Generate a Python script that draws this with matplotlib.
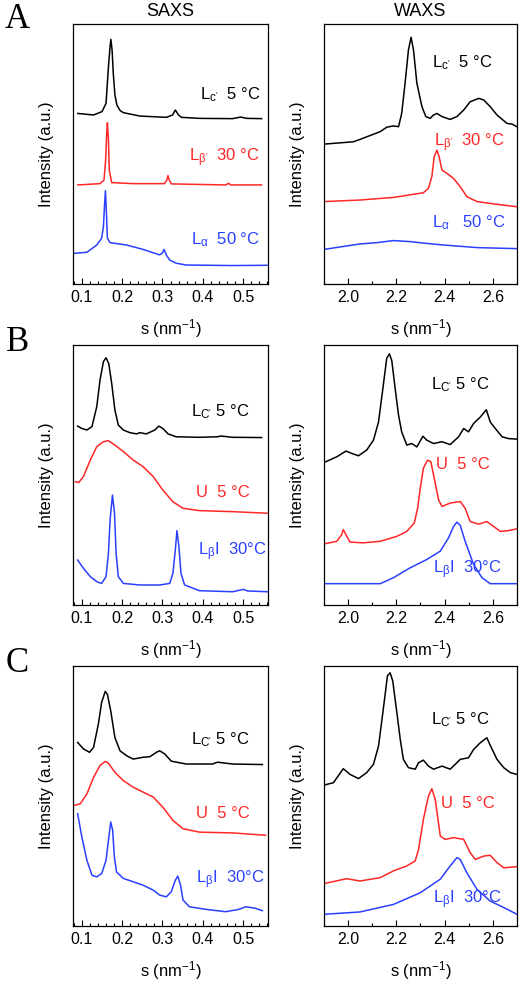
import matplotlib
matplotlib.use("Agg")
import matplotlib.pyplot as plt
from matplotlib.ticker import MultipleLocator

plt.rcParams["font.family"] = ["Liberation Sans", "DejaVu Sans"]
plt.rcParams["mathtext.fontset"] = "custom"
plt.rcParams["mathtext.rm"] = "Liberation Sans"
plt.rcParams["mathtext.it"] = "Liberation Sans"
plt.rcParams["mathtext.default"] = "regular"

# ---- panel A, SAXS ----
a_saxs_k_s = [0.090, 0.129, 0.150, 0.160, 0.166, 0.170, 0.172, 0.175, 0.178, 0.182, 0.187, 0.195,
              0.203, 0.244, 0.310, 0.325, 0.332, 0.340, 0.347, 0.392, 0.474, 0.494, 0.510, 0.546]
a_saxs_k_i = [0.656, 0.650, 0.663, 0.695, 0.836, 0.913, 0.941, 0.900, 0.810, 0.727, 0.688, 0.667,
              0.659, 0.646, 0.641, 0.650, 0.669, 0.650, 0.641, 0.637, 0.636, 0.642, 0.637, 0.636]
a_saxs_r_s = [0.090, 0.145, 0.155, 0.159, 0.1617, 0.1634, 0.166, 0.168, 0.174, 0.227, 0.305, 0.311,
              0.3136, 0.317, 0.322, 0.457, 0.464, 0.470, 0.546]
a_saxs_r_i = [0.381, 0.386, 0.400, 0.477, 0.579, 0.620, 0.554, 0.438, 0.390, 0.386, 0.386, 0.400,
              0.417, 0.400, 0.385, 0.381, 0.387, 0.381, 0.381]
a_saxs_b_s = [0.081, 0.1125, 0.137, 0.149, 0.1535, 0.156, 0.1585, 0.161, 0.1634, 0.170, 0.211, 0.252,
              0.293, 0.300, 0.304, 0.3095, 0.318, 0.334, 0.359, 0.474, 0.560]
a_saxs_b_i = [0.118, 0.122, 0.150, 0.176, 0.220, 0.297, 0.359, 0.272, 0.176, 0.159, 0.150, 0.133,
              0.112, 0.120, 0.133, 0.112, 0.092, 0.080, 0.073, 0.071, 0.072]

# ---- panel A, WAXS ----
a_waxs_k_s = [1.900, 2.022, 2.049, 2.133, 2.160, 2.188, 2.209, 2.222, 2.236, 2.250, 2.261, 2.271,
              2.285, 2.306, 2.322, 2.340, 2.354, 2.368, 2.389, 2.423, 2.451, 2.479, 2.506, 2.541,
              2.562, 2.589, 2.617, 2.658, 2.679, 2.700]
a_waxs_k_i = [0.538, 0.547, 0.556, 0.586, 0.603, 0.608, 0.605, 0.656, 0.772, 0.900, 0.949, 0.900,
              0.772, 0.682, 0.644, 0.637, 0.650, 0.656, 0.644, 0.633, 0.644, 0.669, 0.701, 0.714,
              0.708, 0.682, 0.650, 0.618, 0.615, 0.605]
a_waxs_r_s = [1.900, 2.049, 2.188, 2.271, 2.312, 2.333, 2.347, 2.357, 2.368, 2.377, 2.389, 2.409,
              2.437, 2.465, 2.492, 2.534, 2.603, 2.700]
a_waxs_r_i = [0.317, 0.323, 0.333, 0.345, 0.351, 0.368, 0.413, 0.490, 0.515, 0.490, 0.438, 0.426,
              0.406, 0.374, 0.336, 0.317, 0.308, 0.297]
a_waxs_b_s = [1.900, 2.049, 2.119, 2.188, 2.257, 2.326, 2.396, 2.534, 2.700]
a_waxs_b_i = [0.133, 0.154, 0.159, 0.167, 0.163, 0.156, 0.150, 0.140, 0.136]

# ---- panel B, SAXS ----
b_saxs_k_s = [0.0895, 0.100, 0.1125, 0.125, 0.137, 0.145, 0.1535, 0.160, 0.1667, 0.174, 0.182, 0.1905,
              0.203, 0.219, 0.236, 0.244, 0.260, 0.281, 0.291, 0.301, 0.314, 0.334, 0.392, 0.437,
              0.445, 0.474, 0.546]
b_saxs_k_i = [0.688, 0.679, 0.673, 0.686, 0.763, 0.865, 0.936, 0.951, 0.929, 0.853, 0.750, 0.692,
              0.673, 0.663, 0.658, 0.663, 0.658, 0.673, 0.688, 0.679, 0.658, 0.647, 0.645, 0.647,
              0.650, 0.645, 0.644]
b_saxs_r_s = [0.084, 0.092, 0.104, 0.121, 0.137, 0.1535, 0.166, 0.182, 0.203, 0.227, 0.252, 0.277,
              0.301, 0.326, 0.351, 0.392, 0.474, 0.560]
b_saxs_r_i = [0.474, 0.471, 0.494, 0.558, 0.609, 0.628, 0.632, 0.615, 0.590, 0.558, 0.532, 0.494,
              0.442, 0.397, 0.372, 0.363, 0.359, 0.353]
b_saxs_b_s = [0.0895, 0.104, 0.121, 0.137, 0.149, 0.160, 0.166, 0.170, 0.176, 0.181, 0.185, 0.1905,
              0.203, 0.244, 0.293, 0.318, 0.326, 0.332, 0.336, 0.341, 0.346, 0.355, 0.392, 0.474,
              0.501, 0.511, 0.560]
b_saxs_b_i = [0.173, 0.141, 0.109, 0.090, 0.083, 0.109, 0.199, 0.327, 0.423, 0.353, 0.199, 0.109,
              0.083, 0.077, 0.077, 0.083, 0.122, 0.212, 0.286, 0.224, 0.122, 0.077, 0.055, 0.051,
              0.060, 0.054, 0.051]

# ---- panel B, WAXS ----
b_waxs_k_s = [1.900, 1.953, 1.991, 2.015, 2.043, 2.077, 2.105, 2.126, 2.144, 2.160, 2.171, 2.181,
              2.195, 2.209, 2.222, 2.243, 2.264, 2.285, 2.310, 2.326, 2.354, 2.389, 2.423, 2.458,
              2.479, 2.499, 2.520, 2.548, 2.573, 2.589, 2.610, 2.638, 2.665, 2.700]
b_waxs_k_i = [0.548, 0.570, 0.592, 0.583, 0.574, 0.596, 0.634, 0.704, 0.832, 0.949, 0.966, 0.940,
              0.832, 0.730, 0.666, 0.615, 0.621, 0.608, 0.649, 0.634, 0.621, 0.628, 0.617, 0.647,
              0.679, 0.666, 0.698, 0.723, 0.751, 0.704, 0.679, 0.647, 0.640, 0.638]
b_waxs_r_s = [1.900, 1.953, 1.973, 1.980, 1.991, 2.008, 2.063, 2.133, 2.202, 2.243, 2.274, 2.288,
              2.299, 2.312, 2.329, 2.343, 2.357, 2.375, 2.389, 2.423, 2.465, 2.485, 2.506, 2.541,
              2.575, 2.603, 2.631, 2.665, 2.700]
b_waxs_r_i = [0.235, 0.245, 0.270, 0.290, 0.270, 0.242, 0.239, 0.245, 0.264, 0.283, 0.315, 0.372,
              0.449, 0.526, 0.557, 0.551, 0.487, 0.404, 0.379, 0.392, 0.398, 0.372, 0.321, 0.311,
              0.321, 0.302, 0.283, 0.286, 0.293]
b_waxs_b_s = [1.900, 2.133, 2.188, 2.257, 2.326, 2.382, 2.416, 2.437, 2.451, 2.465, 2.485, 2.520,
              2.555, 2.589, 2.645, 2.700]
b_waxs_b_i = [0.082, 0.082, 0.105, 0.143, 0.175, 0.207, 0.258, 0.302, 0.319, 0.306, 0.245, 0.156,
              0.105, 0.082, 0.082, 0.082]

# ---- panel C, SAXS ----
c_saxs_k_s = [0.0895, 0.104, 0.119, 0.129, 0.141, 0.149, 0.158, 0.1634, 0.1716, 0.182, 0.1946, 0.211,
              0.2274, 0.252, 0.2685, 0.285, 0.293, 0.3055, 0.322, 0.359, 0.424, 0.437, 0.474, 0.548]
c_saxs_k_i = [0.706, 0.681, 0.668, 0.687, 0.777, 0.860, 0.902, 0.891, 0.828, 0.725, 0.674, 0.655,
              0.642, 0.649, 0.651, 0.668, 0.674, 0.662, 0.634, 0.623, 0.623, 0.630, 0.623, 0.621]
c_saxs_r_s = [0.081, 0.096, 0.1125, 0.129, 0.145, 0.158, 0.166, 0.182, 0.203, 0.2274, 0.252, 0.277,
              0.301, 0.326, 0.351, 0.392, 0.474, 0.556]
c_saxs_r_i = [0.464, 0.470, 0.508, 0.572, 0.617, 0.633, 0.626, 0.591, 0.559, 0.534, 0.515, 0.496,
              0.457, 0.406, 0.374, 0.361, 0.358, 0.349]
c_saxs_b_s = [0.0895, 0.100, 0.1125, 0.125, 0.137, 0.1494, 0.160, 0.166, 0.1716, 0.1765, 0.1806, 0.186,
              0.203, 0.2274, 0.252, 0.277, 0.293, 0.3095, 0.322, 0.332, 0.338, 0.345, 0.351, 0.367,
              0.408, 0.457, 0.490, 0.507, 0.531, 0.548]
c_saxs_b_i = [0.432, 0.342, 0.253, 0.195, 0.189, 0.202, 0.253, 0.330, 0.400, 0.368, 0.266, 0.208,
              0.183, 0.170, 0.157, 0.138, 0.119, 0.112, 0.132, 0.176, 0.192, 0.157, 0.100, 0.074,
              0.064, 0.055, 0.064, 0.074, 0.068, 0.059]

# ---- panel C, WAXS ----
c_waxs_k_s = [1.900, 1.939, 1.980, 2.008, 2.043, 2.077, 2.105, 2.126, 2.144, 2.163, 2.174, 2.185,
              2.202, 2.216, 2.229, 2.250, 2.278, 2.292, 2.312, 2.333, 2.354, 2.389, 2.423, 2.465,
              2.499, 2.520, 2.548, 2.575, 2.589, 2.617, 2.645, 2.672, 2.700]
c_waxs_k_i = [0.542, 0.551, 0.605, 0.583, 0.567, 0.590, 0.622, 0.692, 0.821, 0.962, 0.974, 0.942,
              0.821, 0.718, 0.641, 0.609, 0.603, 0.628, 0.638, 0.615, 0.603, 0.615, 0.603, 0.641,
              0.647, 0.679, 0.705, 0.724, 0.695, 0.641, 0.609, 0.590, 0.583]
c_waxs_r_s = [1.900, 1.994, 2.049, 2.133, 2.188, 2.243, 2.278, 2.292, 2.312, 2.333, 2.347, 2.361,
              2.382, 2.402, 2.437, 2.479, 2.506, 2.527, 2.562, 2.589, 2.617, 2.645, 2.700]
c_waxs_r_i = [0.163, 0.182, 0.173, 0.186, 0.212, 0.231, 0.250, 0.295, 0.410, 0.500, 0.528, 0.487,
              0.346, 0.333, 0.340, 0.333, 0.282, 0.256, 0.269, 0.272, 0.244, 0.224, 0.228]
c_waxs_b_s = [1.900, 2.049, 2.188, 2.299, 2.382, 2.423, 2.451, 2.465, 2.492, 2.534, 2.589, 2.645, 2.700]
c_waxs_b_i = [0.045, 0.054, 0.083, 0.128, 0.180, 0.231, 0.263, 0.256, 0.205, 0.141, 0.096, 0.071, 0.045]

# curve labels
a_saxs_labels = [r"L$_{c'}$  5 °C", r"L$_{β'}$  30 °C", r"L$_{α}$  50 °C"]
a_waxs_labels = [r"L$_{c'}$  5 °C", r"L$_{β'}$  30 °C", r"L$_{α}$   50 °C"]
bc_labels = [r"L$_{C'}$ 5 °C", r"U  5 °C", r"L$_{β}$I  30°C"]

BLACK, RED, BLUE = "#000000", "#ff2626", "#2a40ff"
colors = [BLACK, RED, BLUE]

fig = plt.figure(figsize=(5.21, 9.82), dpi=100)

cols = [(73 / 521, 195 / 521), (324 / 521, 193 / 521)]
rows = [(982 - 284) / 982, (982 - 605) / 982, (982 - 926) / 982]
h = 260 / 982


def setup(ax, kind):
    if kind == "saxs":
        ax.set_xlim(0.078, 0.562)
        ax.xaxis.set_major_locator(MultipleLocator(0.1))
        ax.xaxis.set_minor_locator(MultipleLocator(0.02))
    else:
        ax.set_xlim(1.9, 2.7)
        ax.xaxis.set_major_locator(MultipleLocator(0.2))
        ax.xaxis.set_minor_locator(MultipleLocator(0.1))
    ax.xaxis.set_major_formatter(plt.FormatStrFormatter("%.1f"))
    ax.set_ylim(0, 1)
    ax.tick_params(axis="x", which="major", direction="in", length=4, width=0.8,
                   labelsize=11.5, pad=4)
    ax.tick_params(axis="x", which="minor", direction="in", length=2, width=0.8)
    ax.tick_params(axis="y", which="both", left=False, labelleft=False)
    ax.set_xlabel(r"s (nm$^{-1}$)", fontsize=12, labelpad=9)
    ax.set_ylabel("Intensity (a.u.)", fontsize=12, labelpad=14)
    for sp in ax.spines.values():
        sp.set_linewidth(0.9)


def curves(ax, data):
    for (s, i), c in zip(data, colors):
        ax.plot(s, i, color=c, lw=1.1)


def labels(ax, texts, pos):
    for t, (x, y), c in zip(texts, pos, colors):
        ax.text(x, y, t, transform=ax.transAxes, color=c, fontsize=12,
                ha="right", va="center")


# row A
ax = fig.add_axes([cols[0][0], rows[0], cols[0][1], h])
setup(ax, "saxs")
curves(ax, [(a_saxs_k_s, a_saxs_k_i), (a_saxs_r_s, a_saxs_r_i), (a_saxs_b_s, a_saxs_b_i)])
labels(ax, a_saxs_labels, [(0.965, 0.727), (0.96, 0.485), (0.96, 0.169)])

ax = fig.add_axes([cols[1][0], rows[0], cols[1][1], h])
setup(ax, "waxs")
curves(ax, [(a_waxs_k_s, a_waxs_k_i), (a_waxs_r_s, a_waxs_r_i), (a_waxs_b_s, a_waxs_b_i)])
labels(ax, a_waxs_labels, [(0.876, 0.85), (0.938, 0.542), (0.943, 0.235)])

# row B
ax = fig.add_axes([cols[0][0], rows[1], cols[0][1], h])
setup(ax, "saxs")
curves(ax, [(b_saxs_k_s, b_saxs_k_i), (b_saxs_r_s, b_saxs_r_i), (b_saxs_b_s, b_saxs_b_i)])
labels(ax, bc_labels, [(0.908, 0.742), (0.908, 0.431), (0.993, 0.204)])

ax = fig.add_axes([cols[1][0], rows[1], cols[1][1], h])
setup(ax, "waxs")
curves(ax, [(b_waxs_k_s, b_waxs_k_i), (b_waxs_r_s, b_waxs_r_i), (b_waxs_b_s, b_waxs_b_i)])
labels(ax, bc_labels, [(0.86, 0.846), (0.86, 0.542), (0.922, 0.135)])

# row C
ax = fig.add_axes([cols[0][0], rows[2], cols[0][1], h])
setup(ax, "saxs")
curves(ax, [(c_saxs_k_s, c_saxs_k_i), (c_saxs_r_s, c_saxs_r_i), (c_saxs_b_s, c_saxs_b_i)])
labels(ax, bc_labels, [(0.908, 0.715), (0.908, 0.431), (0.985, 0.177)])

ax = fig.add_axes([cols[1][0], rows[2], cols[1][1], h])
setup(ax, "waxs")
curves(ax, [(c_waxs_k_s, c_waxs_k_i), (c_waxs_r_s, c_waxs_r_i), (c_waxs_b_s, c_waxs_b_i)])
labels(ax, bc_labels, [(0.86, 0.792), (0.886, 0.473), (0.922, 0.10)])

# column titles and panel letters
fig.text(0.327, 0.988, "SAXS", fontsize=13, ha="center", va="center")
fig.text(0.807, 0.988, "WAXS", fontsize=13, ha="center", va="center")
for letter, y in zip(["A", "B", "C"], [0.980, 0.651, 0.324]):
    fig.text(0.033, y, letter, fontsize=25, ha="center", va="center",
             family="Liberation Serif")

fig.savefig("out.png", dpi=100)
